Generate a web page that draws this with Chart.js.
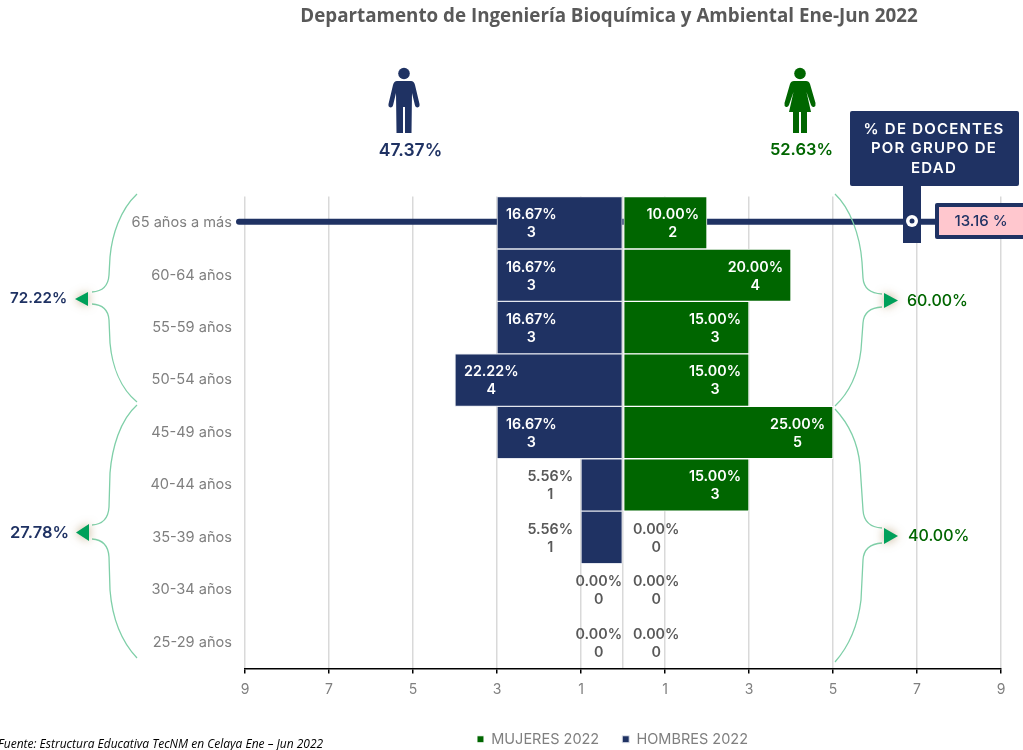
<!DOCTYPE html>
<html lang="es">
<head>
<meta charset="utf-8">
<title>Departamento de Ingeniería Bioquímica y Ambiental</title>
<script src="https://cdn.jsdelivr.net/npm/chart.js@4"></script>
<style>
    html, body { margin: 0; background: #fff; }
    canvas { display: block; }
</style>
</head>
<body>
<canvas id="pyramidChart" width="1023" height="750"></canvas>
<script>
const categories = ['65 años a más', '60-64 años', '55-59 años', '50-54 años', '45-49 años', '40-44 años', '35-39 años', '30-34 años', '25-29 años'];
const hombresCount = [3, 3, 3, 4, 3, 1, 1, 0, 0];
const mujeresCount = [2, 4, 3, 3, 5, 3, 0, 0, 0];
const hombresPct = ['16.67%', '16.67%', '16.67%', '22.22%', '16.67%', '5.56%', '5.56%', '0.00%', '0.00%'];
const mujeresPct = ['10.00%', '20.00%', '15.00%', '15.00%', '25.00%', '15.00%', '0.00%', '0.00%', '0.00%'];
const xTicks = [-9, -7, -5, -3, -1, 0, 1, 3, 5, 7, 9];

const NAVY = '#1f3263';
const GREEN = '#006600';
const GREY = '#7f7f7f';
const LABEL_GREY = '#595959';
const BRACE = '#7fcfa8';
const ARROW = '#00a05a';

const manIcon = new Path2D('M397,81 L411,81 Q414,81 415,85 L419.5,104 Q420,107 417.5,107.5 Q415.5,107.5 415,105.5 L412,93 L411.5,133 L405,133 L405,107 L403,107 L403,133 L396.5,133 L396,93 L393,105.5 Q392.5,107.5 390.5,107.5 Q388,107 388.5,104 L393,85 Q394,81 397,81 Z');
const womanIcon = new Path2D('M794,81 L806,81 Q809,81 810,84 L815.5,103 Q816,106 814,107 Q812,107.5 811,105 L806.5,92 L811,112 L807,112 L807,133 L801,133 L801,112 L799,112 L799,133 L793,133 L793,112 L789,112 L793.5,92 L789,105 Q788,107.5 786,107 Q784,106 784.5,103 L790,84 Q791,81 794,81 Z');

const braces = [
    'M137,194 C120,210 112,235 110,257 L109,275 Q108,291 92,292',
    'M92,304 Q108,305 109,320 L110,343 C112,365 120,388 137,402',
    'M137,405 C120,420 112,448 110,473 L109,507 Q108,524 92,525',
    'M92,539 Q108,540 109,557 L110,590 C112,615 120,640 137,658',
    'M835,194 C850,208 860,235 862,262 L863,278 Q864,293 882,294',
    'M882,307 Q864,308 863,323 L861,350 C858,375 850,392 835,406',
    'M835,409 C850,425 858,445 860,465 L863,510 Q864,527 882,528',
    'M882,543 Q864,544 863,560 L861,600 C858,625 850,645 835,662'
].map(d => new Path2D(d));

function drawText(ctx, text, x, y, font, color, align = 'center', spacing = '0px') {
    ctx.font = font;
    ctx.letterSpacing = spacing;
    ctx.fillStyle = color;
    ctx.textAlign = align;
    ctx.textBaseline = 'middle';
    ctx.fillText(text, x, y);
    ctx.letterSpacing = '0px';
}

function drawArrow(ctx, tipX, baseX, top, bottom) {
    ctx.save();
    ctx.shadowColor = 'rgba(165,135,85,0.7)';
    ctx.shadowBlur = 10;
    ctx.fillStyle = ARROW;
    ctx.beginPath();
    ctx.moveTo(tipX, (top + bottom) / 2);
    ctx.lineTo(baseX, top);
    ctx.lineTo(baseX, bottom);
    ctx.closePath();
    ctx.fill();
    ctx.restore();
}

// places the title and legend off the canvas centre
const boxOffsets = {
    id: 'boxOffsets',
    afterLayout(chart) {
        chart.titleBlock.left = 217;
        chart.legend.left = 224;
        chart.legend.top = 709;
    }
};

// long line of the age-group marker, it runs behind the bars
const markerLine = {
    id: 'markerLine',
    beforeDatasetsDraw(chart) {
        const ctx = chart.ctx;
        const y = chart.scales.y.getPixelForValue(0) - 1;
        ctx.save();
        ctx.strokeStyle = NAVY;
        ctx.lineWidth = 6;
        ctx.lineCap = 'round';
        ctx.beginPath();
        ctx.moveTo(239, y);
        ctx.lineTo(940, y);
        ctx.stroke();
        ctx.restore();
    }
};

const barLabels = {
    id: 'barLabels',
    afterDatasetsDraw(chart) {
        const ctx = chart.ctx;
        const zero = chart.scales.x.getPixelForValue(0);
        const font = '600 14.3px Inter';
        ctx.save();
        ctx.font = font;
        categories.forEach((cat, i) => {
            const y = chart.scales.y.getPixelForValue(i);

            const menEnd = chart.scales.x.getPixelForValue(-hombresCount[i]);
            const menW = ctx.measureText(hombresPct[i]).width;
            let menX, menColor = LABEL_GREY;
            if (hombresCount[i] >= 2) {
                menX = menEnd + 9 + menW / 2;
                menColor = '#fff';
            } else if (hombresCount[i] === 1) {
                menX = menEnd - 8 - menW / 2;
            } else {
                menX = zero - 1 - menW / 2;
            }
            drawText(ctx, hombresPct[i], menX, y - 8, font, menColor);
            drawText(ctx, String(hombresCount[i]), menX, y + 10, font, menColor);

            const womenEnd = chart.scales.x.getPixelForValue(mujeresCount[i]);
            const womenW = ctx.measureText(mujeresPct[i]).width;
            let womenX, womenColor = LABEL_GREY;
            if (mujeresCount[i] > 0) {
                womenX = womenEnd - 8 - womenW / 2;
                womenColor = '#fff';
            } else {
                womenX = zero + 10 + womenW / 2;
            }
            drawText(ctx, mujeresPct[i], womenX, y - 8, font, womenColor);
            drawText(ctx, String(mujeresCount[i]), womenX, y + 10, font, womenColor);
        });
        ctx.restore();
    }
};

// icons, braces, callout and source note
const decorations = {
    id: 'decorations',
    afterDraw(chart) {
        const ctx = chart.ctx;
        ctx.save();

        ctx.fillStyle = NAVY;
        ctx.beginPath();
        ctx.arc(404, 73.5, 5.8, 0, Math.PI * 2);
        ctx.fill();
        ctx.fill(manIcon);
        drawText(ctx, '47.37%', 410.5, 151, '600 17.5px Inter', NAVY);

        ctx.fillStyle = GREEN;
        ctx.beginPath();
        ctx.arc(800, 73.5, 5.8, 0, Math.PI * 2);
        ctx.fill();
        ctx.fill(womanIcon);
        drawText(ctx, '52.63%', 801.5, 150, '600 16.5px Inter', GREEN);

        ctx.strokeStyle = BRACE;
        ctx.lineWidth = 1.3;
        braces.forEach(b => ctx.stroke(b));

        drawArrow(ctx, 75, 88, 292, 306);
        drawArrow(ctx, 76, 89, 524, 541);
        drawArrow(ctx, 898, 884, 293, 308);
        drawArrow(ctx, 898, 884, 528, 544);

        drawText(ctx, '72.22%', 10, 298, '600 15.2px Inter', NAVY, 'left');
        drawText(ctx, '27.78%', 10, 533, '600 16.5px Inter', NAVY, 'left');
        drawText(ctx, '60.00%', 907, 301, '500 16px Inter', GREEN, 'left');
        drawText(ctx, '40.00%', 908, 536, '500 16px Inter', GREEN, 'left');

        ctx.fillStyle = NAVY;
        ctx.beginPath();
        ctx.roundRect(850, 111, 169, 75, 2);
        ctx.fill();
        ctx.fillRect(903, 185, 18, 58);
        ctx.beginPath();
        ctx.roundRect(935, 203, 100, 36, 2);
        ctx.fill();
        ctx.fillStyle = '#ffc7ce';
        ctx.fillRect(939, 207, 90, 28);

        ctx.fillStyle = '#fff';
        ctx.beginPath();
        ctx.arc(912, 221, 6, 0, Math.PI * 2);
        ctx.fill();
        ctx.fillStyle = NAVY;
        ctx.beginPath();
        ctx.arc(912, 221, 2.5, 0, Math.PI * 2);
        ctx.fill();

        const calloutFont = '600 15px Inter';
        drawText(ctx, '% DE DOCENTES', 934, 129, calloutFont, '#fff', 'center', '1.2px');
        drawText(ctx, 'POR GRUPO DE', 934, 148, calloutFont, '#fff', 'center', '1.2px');
        drawText(ctx, 'EDAD', 934, 168, calloutFont, '#fff', 'center', '1.2px');
        drawText(ctx, '13.16 %', 981, 221, '500 15px Inter', NAVY);

        drawText(ctx, 'Fuente: Estructura Educativa TecNM en Celaya Ene – Jun 2022', -2, 745, 'italic 12px "Open Sans"', '#000', 'left');
        ctx.restore();
    }
};

document.addEventListener('DOMContentLoaded', () => {
    const ctx = document.getElementById('pyramidChart').getContext('2d');

    window.pyramidChart = new Chart(ctx, {
        type: 'bar',
        data: {
            labels: categories,
            datasets: [{
                label: 'MUJERES 2022',
                backgroundColor: GREEN,
                borderColor: '#fff',
                borderWidth: 1,
                borderSkipped: false,
                data: mujeresCount
            }, {
                label: 'HOMBRES 2022',
                backgroundColor: NAVY,
                borderColor: '#e4e7ee',
                borderWidth: 1,
                borderSkipped: false,
                data: hombresCount.map(v => -v)
            }]
        },
        options: {
            indexAxis: 'y',
            responsive: false,
            animation: false,
            barPercentage: 1,
            categoryPercentage: 1,
            layout: { padding: { left: 0, right: 22, top: 0, bottom: 0 } },
            scales: {
                x: {
                    stacked: true,
                    min: -9,
                    max: 9,
                    afterBuildTicks(axis) {
                        axis.ticks = xTicks.map(value => ({ value }));
                    },
                    afterFit(axis) {
                        axis.height = 34;
                    },
                    border: { color: '#000', width: 1.5 },
                    grid: {
                        color: '#d9d9d9',
                        lineWidth: 1.5,
                        tickLength: 5,
                        tickWidth: 1.5,
                        tickColor: c => (c.tick && c.tick.value === 0 ? 'transparent' : '#000')
                    },
                    ticks: {
                        autoSkip: false,
                        maxRotation: 0,
                        color: GREY,
                        padding: 8,
                        font: { family: 'Inter', size: 14 },
                        callback: value => (value === 0 ? '' : Math.abs(value))
                    }
                },
                y: {
                    stacked: true,
                    afterFit(axis) {
                        axis.width = 245;
                    },
                    border: { display: false },
                    grid: { display: false },
                    ticks: {
                        color: GREY,
                        padding: 5,
                        font: { family: 'Inter', size: 14.6 }
                    }
                }
            },
            plugins: {
                title: {
                    display: true,
                    text: 'Departamento de Ingeniería Bioquímica y Ambiental Ene-Jun 2022',
                    color: LABEL_GREY,
                    font: { family: '"Open Sans"', size: 18.8, weight: 'bold' },
                    padding: { top: 5, bottom: 169 }
                },
                legend: {
                    position: 'bottom',
                    labels: {
                        boxWidth: 7,
                        boxHeight: 7,
                        padding: 23,
                        color: GREY,
                        font: { family: 'Inter', size: 14.5 }
                    }
                },
                tooltip: { enabled: false }
            }
        },
        plugins: [boxOffsets, markerLine, barLabels, decorations]
    });
});
</script>
</body>
</html>
